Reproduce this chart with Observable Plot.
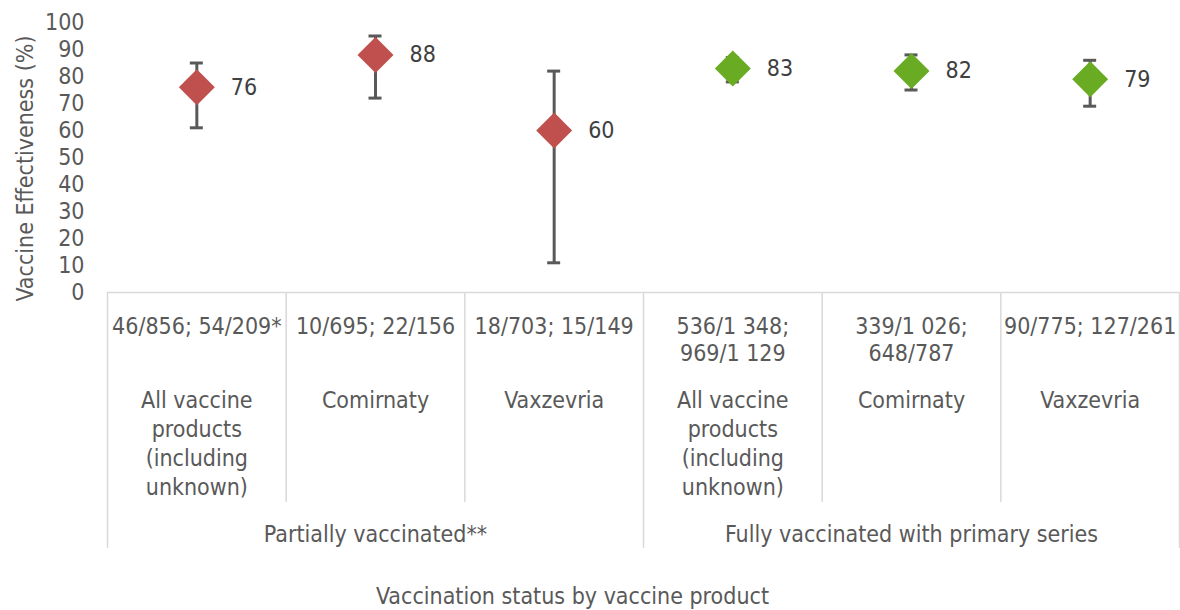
<!DOCTYPE html>
<html>
<head>
<meta charset="utf-8">
<script src="https://cdn.jsdelivr.net/npm/d3@7"></script>
<script src="https://cdn.jsdelivr.net/npm/@observablehq/plot@0.6"></script>
<style>
  html, body { margin: 0; padding: 0; background: #ffffff; }
  #chart svg { display: block; }
</style>
</head>
<body>
<div id="chart"></div>
<script>
// ---- data ----
const categoryNames = [
  "All vaccine\nproducts\n(including\nunknown)", "Comirnaty", "Vaxzevria",
  "All vaccine\nproducts\n(including\nunknown)", "Comirnaty", "Vaxzevria"
];
const caseCounts = [
  "46/856; 54/209*", "10/695; 22/156", "18/703; 15/149",
  "536/1 348;\n969/1 129", "339/1 026;\n648/787", "90/775; 127/261"
];
const groupOf = ["partial", "partial", "partial", "full", "full", "full"];
const groupNames = ["Partially vaccinated**", "Fully vaccinated with primary series"];
const groupKeys = ["partial", "full"];
const effectiveness = [76, 88, 60, 83, 82, 79];
const ciLower = [61, 72, 11, 78, 75, 69];
const ciUpper = [85, 95, 82, 87, 88, 86];
const yTicks = [0, 10, 20, 30, 40, 50, 60, 70, 80, 90, 100];
const yTitle = "Vaccine Effectiveness (%)";
const xTitle = "Vaccination status by vaccine product";

// ---- table built from the arrays ----
const rows = effectiveness.map((v, i) => ({
  pos: i + 0.5,
  ve: v,
  lo: ciLower[i],
  hi: ciUpper[i],
  group: groupOf[i],
  name: categoryNames[i],
  counts: caseCounts[i]
}));
const nCat = rows.length;
const groupSize = nCat / groupNames.length;
const groupRows = groupNames.map((g, j) => ({pos: j * groupSize + groupSize / 2, label: g}));
const outerBounds = d3.range(0, nCat + 1, groupSize);
const innerBounds = d3.range(0, nCat + 1).filter(b => b % groupSize !== 0);

const FONT = "DejaVu Sans Condensed";
const FS = 23;
const labelColor = "#595959";

const chart = Plot.plot({
  width: 1180,
  height: 610,
  marginLeft: 107,
  marginRight: 1,
  marginTop: 22,
  marginBottom: 318,
  style: {fontFamily: FONT, fontSize: FS + "px", background: "#ffffff", color: labelColor},
  x: {domain: [0, nCat], axis: null},
  y: {domain: [0, 100], axis: null},
  color: {domain: groupKeys, range: ["#C0504D", "#6AAB24"]},
  marks: [
    // y axis tick labels
    Plot.axisY(yTicks, {tickSize: 0, tickPadding: 23, fontSize: FS, fill: labelColor, label: null}),
    // y axis title
    Plot.text([yTitle], {frameAnchor: "left", textAnchor: "middle", lineAnchor: "middle", dx: -82, dy: 11, rotate: -90, fontSize: FS, fill: labelColor}),
    // category box: top line + dividers
    Plot.ruleY([0], {stroke: "#d9d9d9", strokeWidth: 1.5}),
    Plot.axisX(innerBounds, {tickSize: 210, tickFormat: () => "", stroke: "#d9d9d9", strokeWidth: 1.5, label: null}),
    Plot.axisX(outerBounds, {tickSize: 256, tickFormat: () => "", stroke: "#d9d9d9", strokeWidth: 1.5, label: null}),
    // category labels
    Plot.text(rows, {x: "pos", text: "counts", frameAnchor: "bottom", lineAnchor: "top", dy: 22, lineHeight: 27 / FS, fontSize: FS, fill: labelColor}),
    Plot.text(rows, {x: "pos", text: "name", frameAnchor: "bottom", lineAnchor: "top", dy: 95, lineHeight: 29 / FS, fontSize: FS, fill: labelColor}),
    Plot.text(groupRows, {x: "pos", text: "label", frameAnchor: "bottom", lineAnchor: "middle", dy: 242, fontSize: FS, fill: labelColor}),
    // x axis title
    Plot.text([xTitle], {frameAnchor: "bottom", lineAnchor: "middle", dx: -71, dy: 304, fontSize: FS, fill: labelColor}),
    // error bars
    Plot.ruleX(rows, {x: "pos", y1: "lo", y2: "hi", stroke: "#595959", strokeWidth: 3}),
    Plot.ruleY(rows, {y: "lo", x1: "pos", x2: "pos", insetLeft: -6.5, insetRight: -6.5, stroke: "#595959", strokeWidth: 3}),
    Plot.ruleY(rows, {y: "hi", x1: "pos", x2: "pos", insetLeft: -6.5, insetRight: -6.5, stroke: "#595959", strokeWidth: 3}),
    // point estimates
    Plot.dot(rows, {x: "pos", y: "ve", symbol: "diamond2", r: 16.2, fill: "group", stroke: "none"}),
    // data labels
    Plot.text(rows, {x: "pos", y: "ve", text: d => String(d.ve), dx: 34, textAnchor: "start", fontSize: FS, fill: "#404040"})
  ]
});
document.getElementById("chart").appendChild(chart);
</script>
</body>
</html>
